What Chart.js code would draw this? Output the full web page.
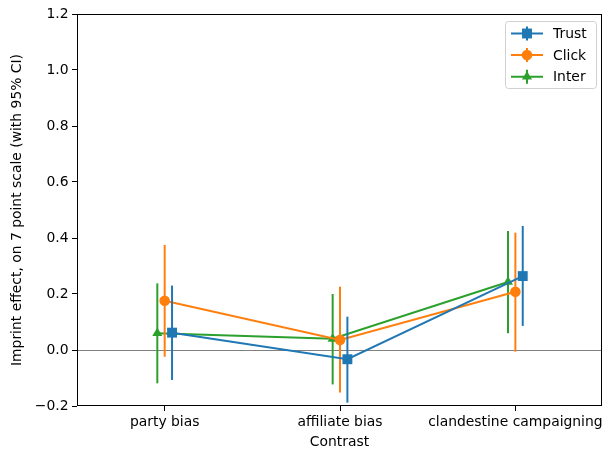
<!DOCTYPE html>
<html>
<head>
<meta charset="utf-8">
<script src="https://cdn.jsdelivr.net/npm/chart.js@4"></script>
<style>
  html, body { margin: 0; padding: 0; background: #fff; }
  #wrap { width: 609px; height: 453px; }
</style>
</head>
<body>
<div id="wrap"><canvas id="chart" width="609" height="453"></canvas></div>
<script>
// categories and values
const categories = ["party bias", "affiliate bias", "clandestine campaigning"];
const seriesNames = ["Trust", "Click", "Inter"];

const trustMean = [0.062, -0.033, 0.264];
const trustLow  = [-0.107, -0.188, 0.086];
const trustHigh = [0.230, 0.119, 0.443];

const clickMean = [0.176, 0.036, 0.208];
const clickLow  = [-0.024, -0.152, -0.006];
const clickHigh = [0.375, 0.226, 0.419];

const interMean = [0.060, 0.040, 0.243];
const interLow  = [-0.119, -0.123, 0.060];
const interHigh = [0.238, 0.200, 0.425];

const yTicks = [-0.2, 0.0, 0.2, 0.4, 0.6, 0.8, 1.0, 1.2];

const FONT = "'DejaVu Sans', sans-serif";
const FSIZE = 13.9;
const colors = ["#1f77b4", "#ff7f0e", "#2ca02c"];
const shapes = ["rect", "circle", "triangle"];
const radii = [7, 5.3, 5.8];
const dodge = [0.042, 0, -0.042];

function makeSet(i, mean, low, high) {
  return {
    label: seriesNames[i],
    data: mean.map((v, k) => ({ x: k + dodge[i], y: v, lo: low[k], hi: high[k] })),
    borderColor: colors[i],
    backgroundColor: colors[i],
    borderWidth: 2,
    showLine: true,
    pointStyle: shapes[i],
    pointRadius: radii[i],
    pointHoverRadius: radii[i],
    pointBorderWidth: 0
  };
}

const datasets = [
  makeSet(0, trustMean, trustLow, trustHigh),
  makeSet(1, clickMean, clickLow, clickHigh),
  makeSet(2, interMean, interLow, interHigh)
];

function minusSign(s) { return s.replace("-", "\u2212"); }

// zero line, error bars, frame and legend
const extras = {
  id: "extras",
  beforeDatasetsDraw(chart) {
    const { ctx, chartArea: a, scales: { y } } = chart;
    ctx.save();
    ctx.strokeStyle = "#808080";
    ctx.lineWidth = 1;
    const y0 = Math.round(y.getPixelForValue(0)) + 0.5;
    ctx.beginPath();
    ctx.moveTo(a.left, y0);
    ctx.lineTo(a.right, y0);
    ctx.stroke();
    ctx.restore();
  },
  beforeDatasetDraw(chart, args) {
    // error bars of each series, drawn just before its line and markers
    const { ctx, scales: { x, y } } = chart;
    const ds = chart.data.datasets[args.index];
    ctx.save();
    ctx.strokeStyle = ds.borderColor;
    ctx.lineWidth = 2;
    ds.data.forEach(p => {
      const px = x.getPixelForValue(p.x);
      ctx.beginPath();
      ctx.moveTo(px, y.getPixelForValue(p.lo));
      ctx.lineTo(px, y.getPixelForValue(p.hi));
      ctx.stroke();
    });
    ctx.restore();
  },
  afterDraw(chart) {
    const { ctx, chartArea: a } = chart;
    ctx.save();
    ctx.strokeStyle = "#000";
    ctx.lineWidth = 1;
    ctx.strokeRect(a.left + 0.5, a.top + 0.5, a.right - a.left - 1, a.bottom - a.top - 1);

    // legend box
    const bx = 505.5, by = 21.5, bw = 91, bh = 67;
    ctx.fillStyle = "rgba(255,255,255,0.8)";
    ctx.strokeStyle = "#d0d0d0";
    ctx.beginPath();
    ctx.roundRect(bx, by, bw, bh, 3);
    ctx.fill();
    ctx.stroke();

    ctx.font = FSIZE + "px " + FONT;
    ctx.textBaseline = "middle";
    seriesNames.forEach((name, i) => {
      const ly = 33.5 + i * 21.6;
      ctx.strokeStyle = colors[i];
      ctx.fillStyle = colors[i];
      ctx.lineWidth = 2;
      ctx.beginPath();
      ctx.moveTo(511, ly);
      ctx.lineTo(543, ly);
      ctx.moveTo(527, ly - 7);
      ctx.lineTo(527, ly + 7);
      ctx.stroke();
      Chart.helpers.drawPoint(ctx, { pointStyle: shapes[i], radius: radii[i], borderWidth: 0 }, 527, ly);
      ctx.fillStyle = "#000";
      ctx.fillText(name, 553, ly + 1);
    });
    ctx.restore();
  }
};

new Chart(document.getElementById("chart"), {
  type: "scatter",
  data: { datasets },
  options: {
    responsive: false,
    animation: false,
    layout: { padding: { left: 0, top: 14, right: 2, bottom: 0 } },
    plugins: { legend: { display: false }, tooltip: { enabled: false } },
    scales: {
      x: {
        type: "linear",
        min: -0.5,
        max: 2.494,
        afterBuildTicks: s => { s.ticks = categories.map((c, k) => ({ value: k })); },
        afterFit: s => { s.height = 47; s.paddingRight = 0; },
        ticks: {
          color: "#000",
          font: { family: FONT, size: FSIZE },
          padding: 3,
          autoSkip: false,
          maxRotation: 0,
          callback: v => categories[v]
        },
        grid: { drawOnChartArea: false, color: "#000", tickLength: 5, tickWidth: 1 },
        border: { display: false },
        title: { display: true, text: "Contrast", color: "#000", font: { family: FONT, size: FSIZE }, padding: { top: 0, bottom: 2.6 } }
      },
      y: {
        min: -0.2,
        max: 1.2,
        afterBuildTicks: s => { s.ticks = yTicks.map(v => ({ value: v })); },
        afterFit: s => { s.width = 77; },
        ticks: {
          color: "#000",
          font: { family: FONT, size: FSIZE },
          padding: 3.5,
          callback: v => minusSign(v.toFixed(1))
        },
        grid: { drawOnChartArea: false, color: "#000", tickLength: 5, tickWidth: 1 },
        border: { display: false },
        title: { display: true, text: "Imprint effect, on 7 point scale (with 95% CI)", color: "#000", font: { family: FONT, size: FSIZE }, padding: { top: 8.6, bottom: 0 } }
      }
    }
  },
  plugins: [extras]
});
</script>
</body>
</html>
